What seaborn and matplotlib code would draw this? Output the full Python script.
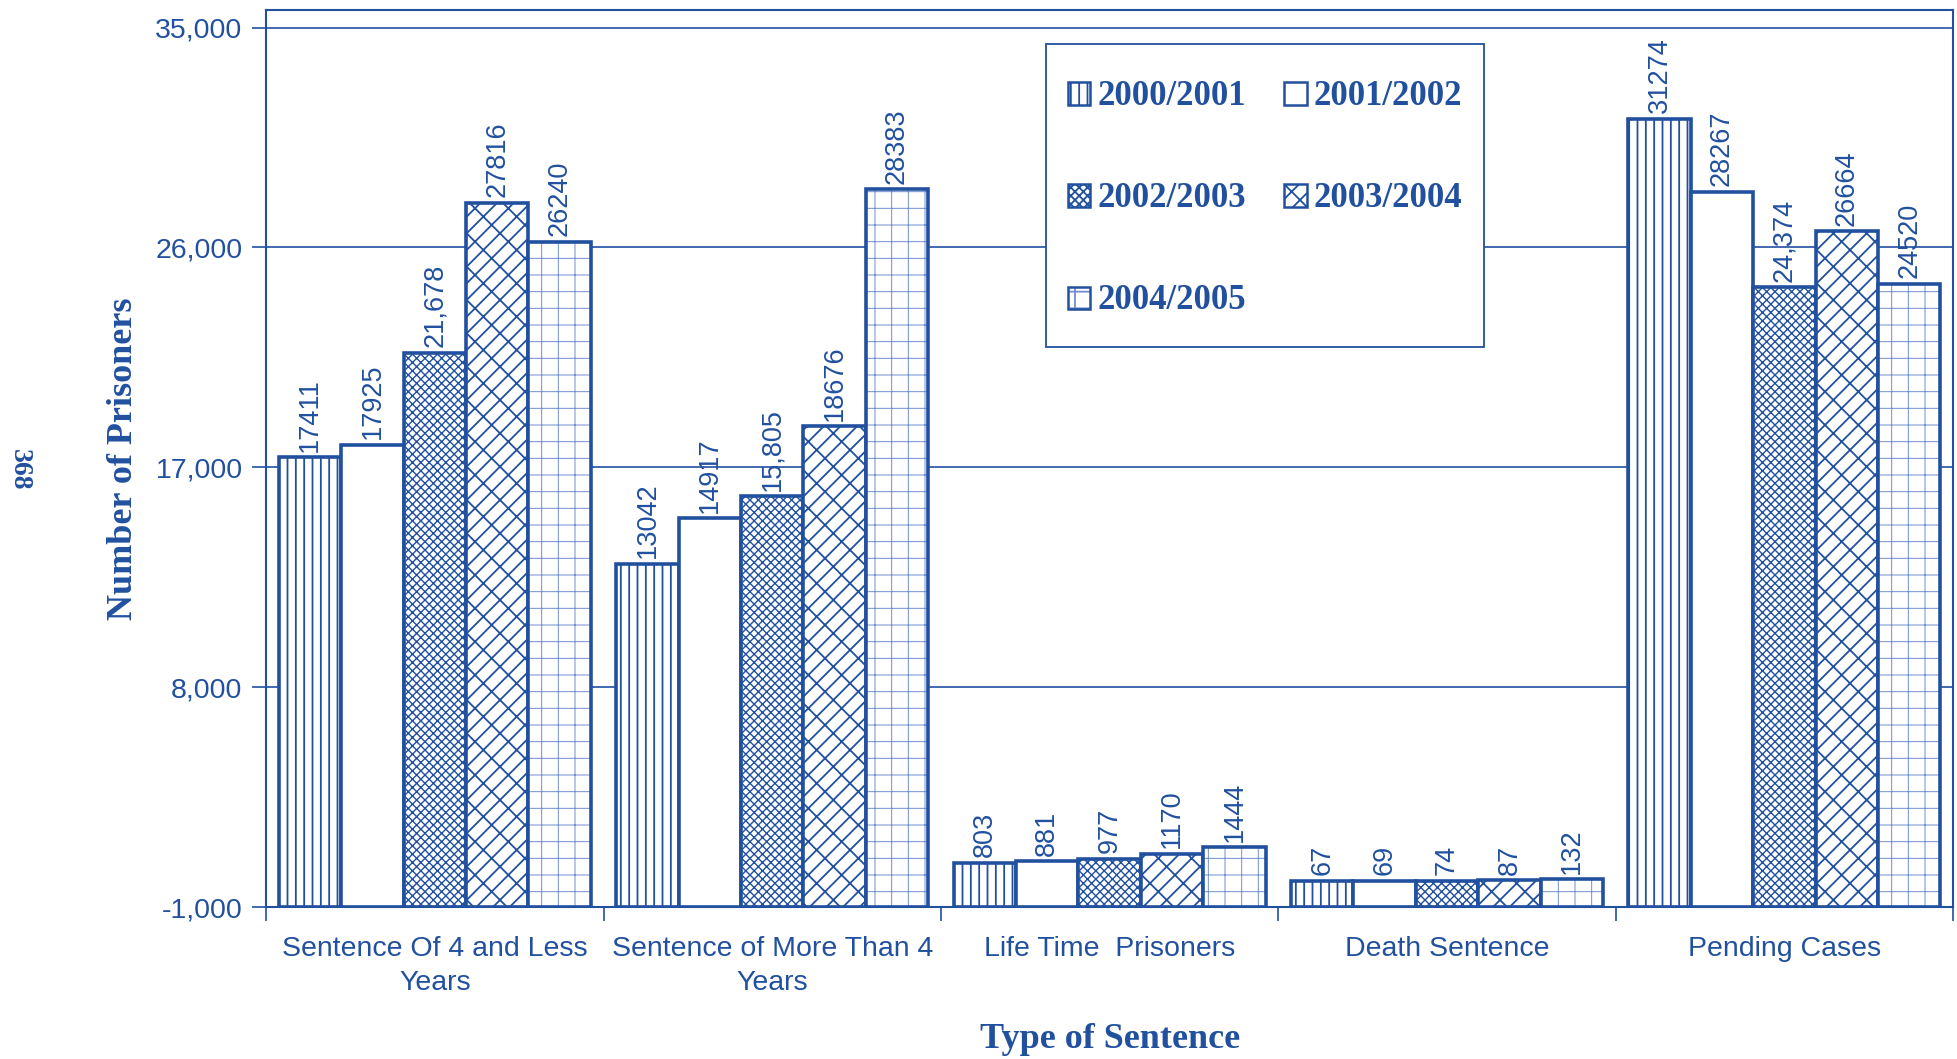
import pandas as pd
import numpy as np
import matplotlib.pyplot as plt
import matplotlib.colors as mcolors
import seaborn as sns
from matplotlib.patches import Patch, Rectangle
from matplotlib.legend_handler import HandlerPatch
from matplotlib.ticker import FuncFormatter

categories = ["Sentence Of 4 and Less\nYears", "Sentence of More Than 4\nYears",
              "Life Time  Prisoners", "Death Sentence", "Pending Cases"]
years = ["2000/2001", "2001/2002", "2002/2003", "2003/2004", "2004/2005"]

v_2000_2001 = [17411, 13042, 803, 67, 31274]
v_2001_2002 = [17925, 14917, 881, 69, 28267]
v_2002_2003 = [21678, 15805, 977, 74, 24374]
v_2003_2004 = [27816, 18676, 1170, 87, 26664]
v_2004_2005 = [26240, 28383, 1444, 132, 24520]

lab_2000_2001 = ["17411", "13042", "803", "67", "31274"]
lab_2001_2002 = ["17925", "14917", "881", "69", "28267"]
lab_2002_2003 = ["21,678", "15,805", "977", "74", "24,374"]
lab_2003_2004 = ["27816", "18676", "1170", "87", "26664"]
lab_2004_2005 = ["26240", "28383", "1444", "132", "24520"]

y_ticks = [-1000, 8000, 17000, 26000, 35000]

values = [v_2000_2001, v_2001_2002, v_2002_2003, v_2003_2004, v_2004_2005]
labels = [lab_2000_2001, lab_2001_2002, lab_2002_2003, lab_2003_2004, lab_2004_2005]

df = pd.DataFrame({
    "category": [c for _ in years for c in categories],
    "year": [y for y in years for _ in categories],
    "value": [v for vals in values for v in vals],
})

BLUE = "#21509f"
LIGHT = "#6f8fcc"
hatches = ["||", "", "xxxx", "/x", "+"]


def soften(p):
    # the 2004/2005 grid is drawn thin and light in the original
    p._hatch_color = mcolors.to_rgba(LIGHT)
    if hasattr(p, "set_hatch_linewidth"):
        p.set_hatch_linewidth(0.7)


def small_square(legend, orig_handle, xdescent, ydescent, width, height, fontsize):
    # keep the key a small square even though the rows are tall
    return Rectangle((-xdescent, -ydescent + (height - width) / 2), width, width)


sns.set_style("ticks")
plt.rcParams["font.family"] = ["Liberation Sans", "DejaVu Sans"]
plt.rcParams["hatch.linewidth"] = 1.3
plt.rcParams["hatch.color"] = BLUE

fig = plt.figure(figsize=(19.57, 10.59), dpi=100)
ax = fig.add_axes([0.136, 0.1435, 0.862, 0.847])

sns.barplot(data=df, x="category", y="value", hue="year", order=categories,
            hue_order=years, palette=["white"] * 5, saturation=1, width=0.925,
            edgecolor=BLUE, linewidth=2.6, errorbar=None, legend=False, ax=ax)

base = y_ticks[0]
for i, cont in enumerate(ax.containers):
    for p in cont.patches:
        top = p.get_height()
        p.set_y(base)
        p.set_height(top - base)
        p.set_hatch(hatches[i])
        if i == 2 and hasattr(p, "set_hatch_linewidth"):
            p.set_hatch_linewidth(1.0)
        if i == 4:
            soften(p)
        xc = p.get_x() + p.get_width() / 2
        k = int(round(xc))
        ax.annotate(labels[i][k], (xc, values[i][k]), xytext=(0, 4),
                    textcoords="offset points", rotation=90, ha="center",
                    va="bottom", fontsize=19.5, color=BLUE)

ax.set_xlim(-0.5, 4.5)
ax.set_ylim(-1000, 35715)
ax.set_yticks(y_ticks)
ax.yaxis.set_major_formatter(FuncFormatter(lambda v, _: f"{int(v):,}"))
ax.set_xticks(range(len(categories)))
ax.set_xticklabels(categories, linespacing=1.4)
ax.set_xticks(np.arange(-0.5, len(categories), 1), minor=True)
ax.tick_params(axis="x", which="major", length=0, pad=21, labelsize=20.5, labelcolor=BLUE)
ax.tick_params(axis="x", which="minor", length=10, width=1.2, color=BLUE, direction="out")
ax.tick_params(axis="y", length=10, width=1.2, color=BLUE, labelsize=20.5,
               labelcolor=BLUE, pad=7)

ax.yaxis.grid(True, color=BLUE, lw=1.2)
ax.set_axisbelow(True)
for s in ax.spines.values():
    s.set_visible(True)
    s.set_color(BLUE)
    s.set_linewidth(1.5)

ax.set_ylabel("Number of Prisoners", family=["Liberation Serif"], fontweight="bold",
              fontsize=26, color=BLUE)
ax.yaxis.set_label_coords(-0.075, 0.5)
ax.set_xlabel("Type of Sentence", family=["Liberation Serif"], fontweight="bold",
              fontsize=26, color=BLUE)
ax.xaxis.set_label_coords(0.5, -0.129)

# legend, filled row by row
handles = [Patch(facecolor="white", edgecolor=BLUE, hatch=h, linewidth=1.8) for h in hatches]
soften(handles[4])
order = [0, 2, 4, 1, 3]
leg = ax.legend([handles[i] for i in order], [years[i] for i in order], ncol=2,
                loc="upper left", bbox_to_anchor=(0.4624, 0.962), borderaxespad=0,
                prop={"family": "Liberation Serif", "weight": "bold", "size": 25},
                labelcolor=BLUE, handlelength=0.65, handleheight=2.1,
                handler_map={Patch: HandlerPatch(patch_func=small_square)},
                handletextpad=0.2, columnspacing=1.1, labelspacing=1.33,
                borderpad=0.62, fancybox=False, framealpha=1, edgecolor=BLUE)
leg.get_frame().set_linewidth(1.3)

fig.text(0.010, 0.556, "368", rotation=-90, family=["Liberation Serif"],
         fontweight="bold", fontsize=20, color=BLUE, ha="center", va="center")

fig.savefig("out.png", dpi=100)
